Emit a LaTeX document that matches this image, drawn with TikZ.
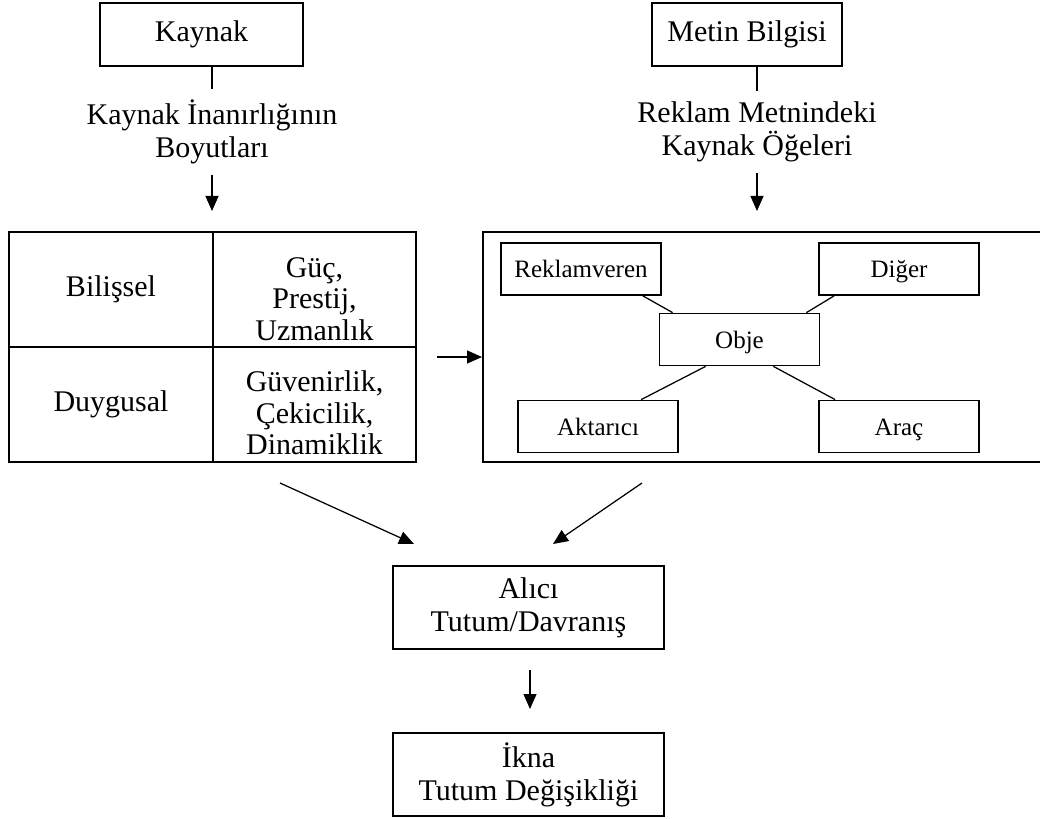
\documentclass[tikz,border=0pt]{standalone}
\usepackage{fontspec}
\setmainfont{Liberation Serif}
\usetikzlibrary{arrows.meta, calc}

\begin{document}
\begin{tikzpicture}[
    x=0.4pt, y=-0.4pt,
    font=\fontsize{12}{13.3}\selectfont,
    mainBox/.style={draw, line width=0.8pt, align=center, inner sep=0pt},
    cellBox/.style={draw, line width=0.8pt, align=center, inner sep=0pt, minimum width=81.4pt, minimum height=46pt, font=\fontsize{12}{12.6}\selectfont},
    itemBox/.style={draw, line width=0.7pt, align=center, inner sep=0pt, minimum width=64pt, minimum height=20.8pt, font=\fontsize{10}{11}\selectfont, text height=8.8pt, text depth=2pt},
    plainText/.style={align=center, inner sep=4pt},
    flowArrow/.style={-{Triangle[length=6pt, width=5.2pt]}, line width=0.5pt},
    thinLine/.style={line width=0.5pt}
]
    \useasboundingbox (0,0) rectangle (1040,819);
    \clip (0,0) rectangle (1040,819);

    % Top boxes
    \node[mainBox, minimum width=81.2pt, minimum height=25.2pt] (kaynak) at (201.5,34.5) {Kaynak};
    \node[mainBox, minimum width=76pt, minimum height=25.2pt] (metin) at (747,34.5) {Metin Bilgisi};

    % Labels under the top boxes
    \node[plainText] (boyut) at (212,132) {Kaynak İnanırlığının\\Boyutları};
    \node[plainText] (oge) at (757,132) {Reklam Metnindeki\\Kaynak Öğeleri};

    % Left table
    \node[cellBox] (bilissel) at (111,289.5) {Bilişsel};
    \node[cellBox] (guc) at (314.5,289.5) {\rule{0pt}{15.5pt}Güç,\\Prestij,\\Uzmanlık};
    \node[cellBox] (duygusal) at (111,404.5) {Duygusal};
    \node[cellBox] (guven) at (314.5,404.5) {\rule{0pt}{15pt}Güvenirlik,\\Çekicilik,\\Dinamiklik};

    % Right box with source elements
    \node[mainBox, minimum width=224.8pt, minimum height=92pt] (kbox) at (764,347) {};
    \node[itemBox] (reklamveren) at (581,269) {Reklamveren};
    \node[itemBox] (diger) at (899,269) {Diğer};
    \node[itemBox] (obje) at (739.5,339.5) {Obje};
    \node[itemBox] (aktarici) at (598,426.5) {Aktarıcı};
    \node[itemBox] (arac) at (899,426.5) {Araç};

    % Bottom boxes
    \node[mainBox, minimum width=108.4pt, minimum height=33.2pt] (alici) at (528.5,607.5) {Alıcı\\Tutum/Davranış};
    \node[mainBox, minimum width=108.4pt, minimum height=33.2pt] (ikna) at (528.5,774.5) {İkna\\Tutum Değişikliği};

    % Top connectors
    \draw[thinLine] (kaynak.south -| boyut.north) -- (boyut.north);
    \draw[thinLine] (metin.south -| oge.north) -- (oge.north);
    \draw[flowArrow, shorten >=8pt] (boyut.south) -- (boyut.south |- guc.north);
    \draw[flowArrow, shorten >=8pt] (oge.south) -- (oge.south |- kbox.north);

    % Table to element box
    \coordinate (tblOut) at (437,357);
    \draw[flowArrow] (tblOut) -- (tblOut -| kbox.west);

    % Lines round Obje
    \draw[thinLine] ($(reklamveren.south east)+(-19,0)$) -- ($(obje.north west)+(14,0)$);
    \draw[thinLine] ($(diger.south west)+(16,0)$) -- ($(obje.north east)+(-14,0)$);
    \draw[thinLine] ($(obje.south west)+(47,0)$) -- ($(aktarici.north west)+(124,0)$);
    \draw[thinLine] ($(obje.south east)+(-47,0)$) -- ($(arac.north west)+(17,0)$);

    % Towards the receiver
    \coordinate (leftOut) at (280,483);
    \coordinate (rightOut) at (642,483);
    \draw[flowArrow] (leftOut) -- ($(alici.north west)+(22,-21)$);
    \draw[flowArrow] (rightOut) -- ($(alici.north)+(24.5,-21)$);
    \draw[flowArrow, shorten <=8pt, shorten >=9.2pt] (alici.south -| 530,0) -- (ikna.north -| 530,0);
\end{tikzpicture}
\end{document}
